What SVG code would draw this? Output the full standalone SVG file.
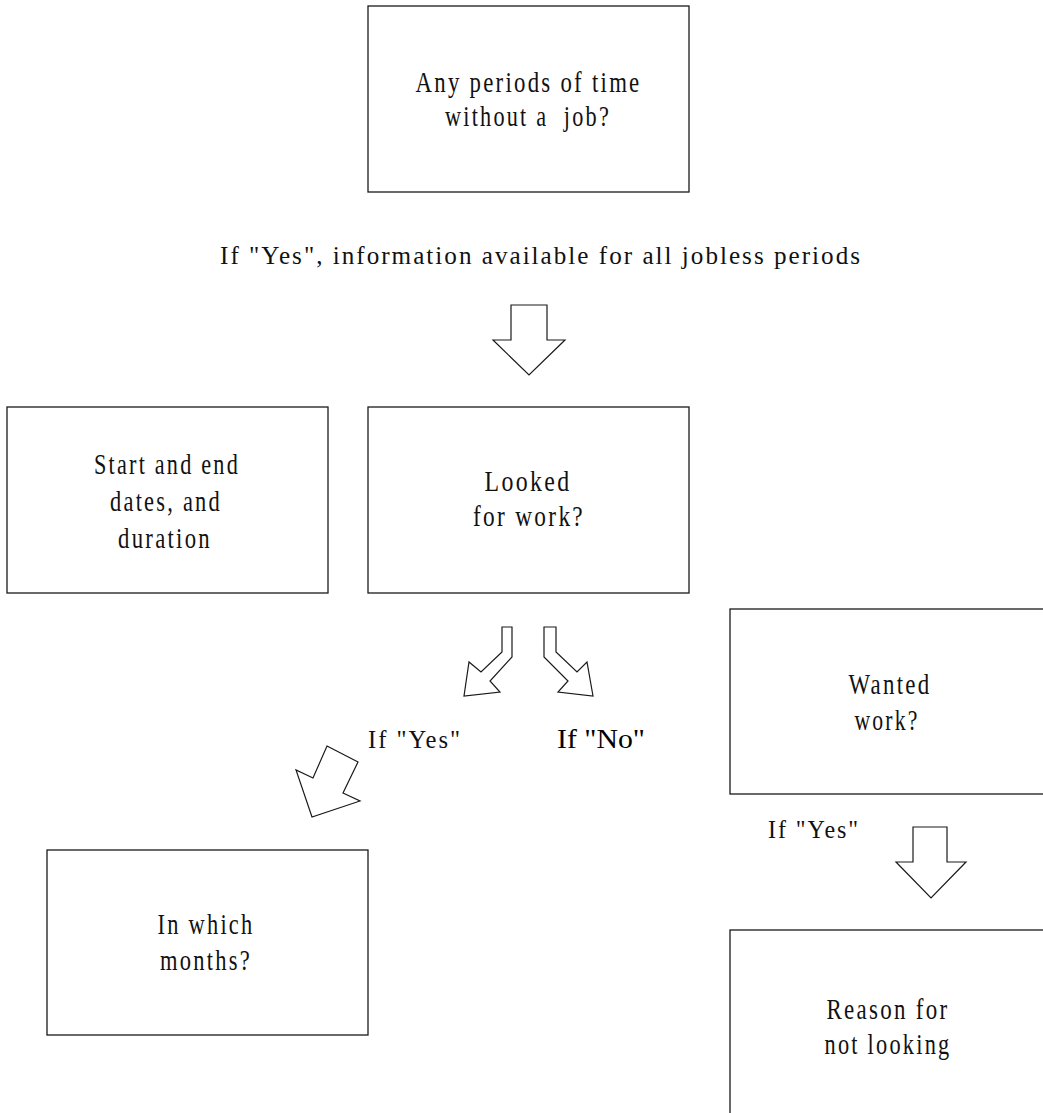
<svg xmlns="http://www.w3.org/2000/svg" width="1043" height="1113" viewBox="0 0 1043 1113">
  <style>
    .box { fill: #ffffff; stroke: #1a1a1a; stroke-width: 1.3; }
    .arrow { fill: #ffffff; stroke: #1a1a1a; stroke-width: 1.2; stroke-linejoin: miter; }
    .t { font-family: "Liberation Serif", "Times New Roman", serif; font-size: 30px; letter-spacing: 3px; fill: #111111; text-anchor: middle; }
    .lbl { font-family: "Liberation Serif", "Times New Roman", serif; font-size: 25px; letter-spacing: 2px; fill: #111111; }
    .no { font-size: 27px; letter-spacing: 0; fill: #000000; }
  </style>
  <rect x="0" y="0" width="1043" height="1113" fill="#ffffff"/>

  <!-- question boxes -->
  <g id="any-periods">
    <rect class="box" x="368" y="6" width="321" height="186"/>
    <text class="t" x="528.5" y="92" textLength="226" lengthAdjust="spacingAndGlyphs">Any periods of time</text>
    <text class="t" x="528" y="126" textLength="166" lengthAdjust="spacingAndGlyphs" xml:space="preserve">without a  job?</text>
  </g>

  <g id="start-end">
    <rect class="box" x="7" y="407" width="321" height="186"/>
    <text class="t" x="167" y="474" textLength="146" lengthAdjust="spacingAndGlyphs">Start and end</text>
    <text class="t" x="166" y="511" textLength="112" lengthAdjust="spacingAndGlyphs">dates, and</text>
    <text class="t" x="165" y="548" textLength="94" lengthAdjust="spacingAndGlyphs">duration</text>
  </g>

  <g id="looked">
    <rect class="box" x="368" y="407" width="321" height="186"/>
    <text class="t" x="528" y="491" textLength="87" lengthAdjust="spacingAndGlyphs">Looked</text>
    <text class="t" x="529" y="526" textLength="112" lengthAdjust="spacingAndGlyphs">for work?</text>
  </g>

  <g id="wanted">
    <rect class="box" x="730" y="609" width="330" height="185"/>
    <text class="t" x="890" y="694" textLength="83" lengthAdjust="spacingAndGlyphs">Wanted</text>
    <text class="t" x="887" y="730" textLength="65" lengthAdjust="spacingAndGlyphs">work?</text>
  </g>

  <g id="months">
    <rect class="box" x="47" y="850" width="321" height="185"/>
    <text class="t" x="206" y="934" textLength="97" lengthAdjust="spacingAndGlyphs">In which</text>
    <text class="t" x="206" y="970" textLength="92" lengthAdjust="spacingAndGlyphs">months?</text>
  </g>

  <g id="reason">
    <rect class="box" x="730" y="930" width="330" height="200"/>
    <text class="t" x="888" y="1019" textLength="123" lengthAdjust="spacingAndGlyphs">Reason for</text>
    <text class="t" x="888" y="1054" textLength="127" lengthAdjust="spacingAndGlyphs">not looking</text>
  </g>

  <!-- block arrows and branch labels -->
  <g id="connectors">
    <text class="lbl" x="220" y="264" textLength="642" lengthAdjust="spacingAndGlyphs">If "Yes", information available for all jobless periods</text>
    <polygon class="arrow" points="511,305 547,305 547,340 565,340 529,375 493,340 511,340"/>

    <polygon class="arrow" points="502,627 512,627 512,657 490,681 500,692 464,696 469,662 481,672 502,652"/>
    <polygon class="arrow" points="544,627 556,627 556,652 577,672 587,662 593,696 558,692 568,681 544,657"/>

    <text class="lbl" x="368" y="748" textLength="94" lengthAdjust="spacingAndGlyphs">If "Yes"</text>
    <text class="lbl no" x="557" y="748" textLength="88" lengthAdjust="spacingAndGlyphs">If "No"</text>

    <polygon class="arrow" points="327,746 358,762 343,793 360,801 312,817 296,770 313,778"/>

    <text class="lbl" x="768" y="838" textLength="92" lengthAdjust="spacingAndGlyphs">If "Yes"</text>
    <polygon class="arrow" points="913,827 947,827 947,862 966,862 931,898 896,862 913,862"/>
  </g>
</svg>
